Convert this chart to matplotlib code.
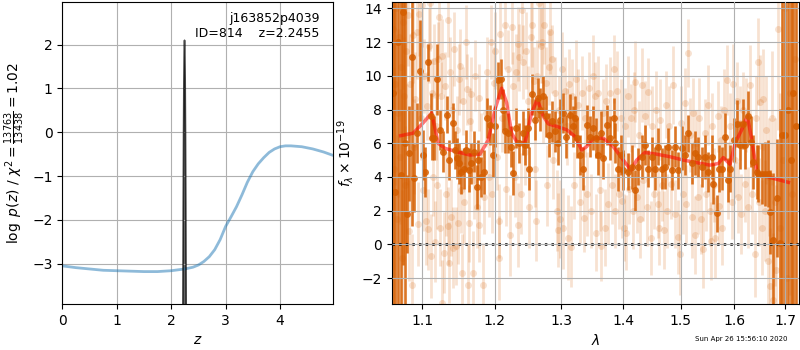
import numpy as np
import matplotlib
matplotlib.use("Agg")
import matplotlib.pyplot as plt
from matplotlib.ticker import NullLocator, FixedLocator, FixedFormatter

# ---------------- redshift fit: chi2 curve (rescaled) and p(z) spike ----------------
chi_z = [0.0, 0.25, 0.5, 0.75, 1.0, 1.25, 1.5, 1.75, 2.0, 2.25, 2.4, 2.5, 2.6, 2.7,
         2.8, 2.9, 3.0, 3.1, 3.2, 3.3, 3.4, 3.5, 3.6, 3.7, 3.8, 3.9, 4.0, 4.1, 4.2,
         4.4, 4.6, 4.8, 4.98]
chi_logp = [-3.05, -3.09, -3.12, -3.15, -3.16, -3.17, -3.18, -3.18, -3.16, -3.12,
            -3.08, -3.03, -2.95, -2.84, -2.68, -2.45, -2.15, -1.93, -1.70, -1.43,
            -1.14, -0.90, -0.72, -0.58, -0.46, -0.38, -0.33, -0.31, -0.31, -0.33,
            -0.38, -0.45, -0.53]

pz_z = [2.2095, 2.2155, 2.2215, 2.2275, 2.2335, 2.2395, 2.2455, 2.2515, 2.2575,
        2.2635, 2.2695, 2.2755, 2.2815]
pz_logp = [-6.54, -3.90, -1.74, -0.06, 1.14, 1.86, 2.10, 1.86, 1.14, -0.06, -1.74,
           -3.90, -6.54]

# ---------------- 1D spectrum: unbinned pixels ----------------
faint_wave = [
    1.0615, 1.0630, 1.0645, 1.0660, 1.0672, 1.0688, 1.0700, 1.0715, 1.0728, 1.0740,
    1.0752, 1.0765, 1.0778, 1.0790, 1.0805, 1.0818, 1.0832, 1.0845, 1.0862, 1.0875,
    1.0890, 1.0905, 1.0926, 1.0947, 1.0961, 1.0980, 1.0992,
    1.1005, 1.1020, 1.1045, 1.1058, 1.1070, 1.1085, 1.1102, 1.1111, 1.1125, 1.1140,
    1.1155, 1.1168, 1.1180, 1.1200, 1.1215, 1.1227, 1.1234, 1.1250, 1.1258, 1.1270,
    1.1287, 1.1300, 1.1320, 1.1340, 1.1346, 1.1353, 1.1370, 1.1392, 1.1400, 1.1415,
    1.1430, 1.1452, 1.1465, 1.1483, 1.1495, 1.1505, 1.1520, 1.1540, 1.1555, 1.1570,
    1.1595, 1.1603, 1.1618, 1.1630, 1.1645, 1.1663, 1.1687, 1.1700, 1.1720, 1.1745,
    1.1776, 1.1777, 1.1800, 1.1832, 1.1850, 1.1870, 1.1892, 1.1915, 1.1940, 1.1960,
    1.1985,
    1.2010, 1.2035, 1.2058, 1.2065, 1.2080, 1.2110, 1.2150, 1.2170, 1.2190, 1.2227,
    1.2244, 1.2260, 1.2290, 1.2310, 1.2336, 1.2343, 1.2360, 1.2380, 1.2400, 1.2420,
    1.2440, 1.2465, 1.2490, 1.2510, 1.2530, 1.2550, 1.2575, 1.2600, 1.2613, 1.2630,
    1.2660, 1.2680, 1.2700, 1.2715, 1.2735, 1.2760, 1.2780, 1.2800, 1.2830, 1.2850,
    1.2870, 1.2900, 1.2925, 1.2944, 1.2960, 1.2985,
    1.3010, 1.3030, 1.3055, 1.3080, 1.3096, 1.3120, 1.3149, 1.3170, 1.3200, 1.3230,
    1.3260, 1.3290, 1.3320, 1.3356, 1.3380, 1.3410, 1.3440, 1.3470, 1.3500, 1.3534,
    1.3555, 1.3580, 1.3610, 1.3637, 1.3660, 1.3690, 1.3720, 1.3750, 1.3780, 1.3815,
    1.3846, 1.3870, 1.3900, 1.3930, 1.3960, 1.3985,
    1.4008, 1.4030, 1.4055, 1.4080, 1.4105, 1.4130, 1.4160, 1.4180, 1.4208, 1.4235,
    1.4260, 1.4290, 1.4315, 1.4340, 1.4370, 1.4400, 1.4430, 1.4470, 1.4500, 1.4530,
    1.4560, 1.4590, 1.4615, 1.4640, 1.4670, 1.4700, 1.4730, 1.4760, 1.4790, 1.4830,
    1.4860, 1.4890, 1.4945, 1.4985,
    1.5010, 1.5040, 1.5070, 1.5100, 1.5138, 1.5170, 1.5200, 1.5230, 1.5252, 1.5280,
    1.5310, 1.5340, 1.5370, 1.5412, 1.5440, 1.5470, 1.5500, 1.5530, 1.5548, 1.5580,
    1.5610, 1.5640, 1.5680, 1.5710, 1.5740, 1.5770, 1.5800, 1.5850, 1.5880, 1.5910,
    1.5950, 1.5980,
    1.6010, 1.6040, 1.6070, 1.6100, 1.6130, 1.6170, 1.6200, 1.6230, 1.6260, 1.6300,
    1.6340, 1.6403, 1.6420, 1.6450, 1.6480, 1.6500, 1.6530, 1.6560, 1.6590, 1.6620,
    1.6650, 1.6680, 1.6700, 1.6730, 1.6760, 1.6790, 1.6820, 1.6860, 1.6900, 1.6950,
    1.7000, 1.7050, 1.7100, 1.7150, 1.7200,
]
faint_flux = [
    12.8, 4.5, 9.5, 14.0, 1.5, 7.8, 12.3, 5.2, 10.5, -0.8,
    13.2, 8.8, 3.5, 11.5, 6.5, 13.6, 0.8, 9.5, -2.4, 12.4,
    5.8, 8.6, 12.6, 1.2, 13.7, 7.5, 14.2,
    3.2, 10.0, 1.4, 8.2, 0.9, 11.8, 14.3, -0.7, 9.0, 4.0,
    10.9, 0.15, 7.0, 3.5, 11.0, 13.5, 1.0, 8.8, -3.5, 11.2,
    -0.5, 9.4, 3.0, 1.1, 13.3, -1.1, 10.2, 1.6, 8.0, -0.2,
    11.6, -0.1, 6.8, 1.25, 9.8, 10.6, 3.2, -1.7, 8.5, 2.5,
    12.0, 9.2, -2.4, 1.25, 7.3, 8.9, -1.7, 3.8, 10.0, 2.2,
    1.15, 8.7, 5.5, -2.4, 2.8, 7.8, 10.2, 4.0, 12.0, 3.0,
    9.6,
    11.5, 5.2, -0.8, 1.4, 12.5, 7.5, 13.0, 3.3, 10.4, 0.55,
    12.9, 9.4, 4.0, 10.2, 1.15, 11.9, 11.1, 3.0, 13.9, 10.8,
    5.5, 11.5, 8.5, 2.2, 12.3, 13.0, 9.7, 4.5, 1.4, 10.0,
    14.3, 11.8, 12.0, 8.0, 13.0, 9.6, 3.5, 10.5, 12.6, 11.0,
    5.0, 9.0, 2.0, 0.85, 8.0, 1.5,
    10.4, 0.95, 9.1, 7.0, 0.4, 9.5, -0.15, 8.8, 3.5, 9.8,
    8.3, 2.5, 9.0, 1.55, 7.5, 3.0, 9.3, 2.0, 10.0, 8.8,
    0.7, 9.0, 3.2, -0.1, 7.8, 1.0, 8.5, 2.4, 9.0, 3.5,
    10.4, 2.0, 9.1, 3.0, 7.5, 2.6,
    1.0, 7.0, 0.7, 8.8, 3.3, 7.5, 2.0, 8.0, 9.65, 2.8,
    6.5, 1.5, 9.45, 3.8, 7.6, 2.2, 9.06, 0.4, 7.0, 3.0,
    8.0, 2.4, 0.95, 7.4, 3.5, 0.85, 8.3, 2.0, 7.0, 3.6,
    9.45, 1.8, 0.45, -0.6,
    7.2, 3.0, 8.37, 2.4, 11.35, 6.5, 1.6, 7.8, 0.55, 6.0,
    2.8, 7.5, 1.5, -0.3, 6.6, 3.0, 8.27, 2.0, 0.2, 7.0,
    3.5, 0.4, 7.6, 2.3, 6.2, 1.0, 8.0, 9.75, 3.8, 7.0,
    2.5, 9.5,
    5.0, 8.5, 2.8, 7.2, 1.8, 8.0, 3.6, 7.7, 2.2, 9.45,
    3.0, -0.6, 7.5, 10.85, 2.5, 8.46, 1.0, 8.6, 2.0, 6.8,
    -1.0, 4.0, -2.5, 7.5, -3.3, 2.5, -1.5, 12.8, 1.0, 5.0,
    14.0, -2.0, 9.0, 3.0, 11.0,
]
faint_err = [
    6, 6, 6, 5, 5, 5, 5, 4, 4, 4,
    4, 3.5, 3.5, 3.5, 3, 3, 3, 3, 3, 2.8,
    2.8, 2.8, 2.8, 2.5, 2.5, 2.5, 2.5,
    2.4, 2.2, 2.6, 2.0, 2.4, 2.2, 2.8, 2.5, 2.0, 2.3,
    2.2, 2.4, 2.0, 2.6, 2.2, 2.5, 2.3, 2.0, 2.6, 2.2,
    2.4, 2.0, 2.5, 2.3, 2.2, 2.4, 2.1, 2.3, 2.0, 2.4,
    2.2, 2.3, 2.0, 2.4, 2.1, 2.2, 2.5, 2.3, 2.0, 2.4,
    2.2, 2.1, 2.4, 2.3, 2.0, 2.2, 2.5, 2.3, 2.1, 2.4,
    2.2, 2.0, 2.3, 2.5, 2.2, 2.0, 2.1, 2.4, 2.2, 2.3,
    2.1,
    2.3, 2.0, 2.5, 2.2, 2.4, 2.0, 2.6, 2.2, 2.3, 2.4,
    2.2, 2.0, 2.4, 2.3, 2.5, 2.2, 2.0, 2.4, 2.6, 2.2,
    2.0, 2.3, 2.1, 2.4, 2.2, 2.5, 2.0, 2.3, 2.4, 2.1,
    2.6, 2.2, 2.4, 2.0, 2.3, 2.1, 2.4, 2.2, 2.5, 2.0,
    2.3, 2.1, 2.4, 2.2, 2.0, 2.3,
    2.2, 2.4, 2.0, 2.3, 2.5, 2.1, 2.4, 2.2, 2.0, 2.3,
    2.1, 2.4, 2.2, 2.0, 2.3, 2.5, 2.1, 2.2, 2.4, 2.0,
    2.3, 2.2, 2.4, 2.1, 2.0, 2.3, 2.2, 2.4, 2.1, 2.3,
    2.0, 2.2, 2.4, 2.1, 2.3, 2.2,
    2.0, 2.3, 2.2, 2.4, 2.1, 2.0, 2.3, 2.2, 2.4, 2.1,
    2.0, 2.3, 2.2, 2.4, 2.1, 2.3, 2.0, 2.2, 2.4, 2.1,
    2.3, 2.0, 2.2, 2.4, 2.1, 2.3, 2.0, 2.2, 2.4, 2.1,
    2.3, 2.0, 2.2, 2.4,
    2.2, 2.4, 2.1, 2.3, 2.0, 2.2, 2.4, 2.1, 2.3, 2.0,
    2.2, 2.4, 2.1, 2.3, 2.0, 2.2, 2.4, 2.1, 2.3, 2.0,
    2.2, 2.4, 2.1, 2.3, 2.0, 2.2, 2.4, 2.1, 2.3, 2.0,
    2.2, 2.4,
    2.2, 2.3, 2.1, 2.2, 2.4, 2.2, 2.3, 2.2, 2.4, 2.4,
    2.4, 2.5, 2.5, 2.6, 2.6, 2.8, 2.8, 3.0, 3.0, 3.2,
    3.2, 3.5, 3.5, 4.0, 4.0, 5.0, 5.0, 6.0, 8.0, 10.0,
    10.0, 12.0, 12.0, 15.0, 15.0,
]

# ---------------- 1D spectrum: binned points ----------------
strong_wave = [
    1.0615, 1.0650, 1.0688, 1.0722, 1.0748, 1.0772,
    1.0796, 1.0830, 1.0869, 1.0895, 1.0930, 1.0969, 1.1005, 1.1040, 1.1079, 1.1110,
    1.1125, 1.1155, 1.1192, 1.1236, 1.1275, 1.1327, 1.1362, 1.1417, 1.1440, 1.1472,
    1.1496, 1.1523, 1.1560, 1.1598, 1.1630, 1.1665, 1.1705, 1.1750, 1.1764, 1.1800,
    1.1846, 1.1884, 1.1931, 1.1970, 1.2010, 1.2050, 1.2085, 1.2120, 1.2148, 1.2190,
    1.2230, 1.2271, 1.2310, 1.2350, 1.2409, 1.2450, 1.2493, 1.2508, 1.2550, 1.2593,
    1.2635, 1.2669, 1.2710, 1.2755, 1.2800, 1.2850, 1.2900, 1.2940, 1.2977, 1.3025,
    1.3075, 1.3134, 1.3185, 1.3213, 1.3250, 1.3292, 1.3340, 1.3399, 1.3450, 1.3500,
    1.3550, 1.3581, 1.3630, 1.3670, 1.3723, 1.3782, 1.3840, 1.3870, 1.3918, 1.3963,
    1.4001, 1.4086, 1.4144, 1.4199, 1.4256, 1.4314, 1.4370, 1.4428, 1.4487, 1.4545,
    1.4603, 1.4662, 1.4720, 1.4779, 1.4838, 1.4899, 1.4958, 1.5018, 1.5078, 1.5138,
    1.5199, 1.5261, 1.5322, 1.5383, 1.5445, 1.5505, 1.5568, 1.5599, 1.5661, 1.5711,
    1.5756, 1.5820, 1.5883, 1.5915, 1.5992, 1.6056, 1.6107, 1.6159, 1.6204, 1.6268,
    1.6316, 1.6367, 1.6433, 1.6466, 1.6533, 1.6599, 1.6666, 1.6699, 1.6767, 1.6834,
    1.6903, 1.6937, 1.7006, 1.7060, 1.7115, 1.7170, 1.7230,
]
strong_flux = [
    9.0, 3.1, 12.0, 4.1, 13.8, 6.0,
    1.8, 5.4, 11.1, 3.95, 6.6, 10.3, 5.3, 4.3, 10.8, 7.6,
    6.3, 6.3, 9.8, 6.8, 5.5, 7.7, 5.0, 7.2, 5.6, 5.1,
    4.8, 4.3, 4.5, 5.6, 4.4, 4.8, 5.5, 3.4, 5.0, 4.0,
    4.3, 7.5, 7.1, 5.3, 7.0, 9.75, 9.8, 8.0, 6.7, 6.6,
    5.8, 4.25, 6.9, 6.0, 6.6, 5.9, 6.9, 4.5, 8.9, 7.4,
    8.7, 8.0, 8.8, 7.6, 6.5, 7.3, 6.7, 6.0, 7.4, 7.8,
    6.4, 7.7, 7.0, 7.5, 6.3, 5.3, 4.5, 7.1, 6.4, 6.9,
    6.3, 5.3, 6.6, 5.1, 7.1, 6.3, 7.5, 6.0, 4.45, 5.3,
    4.4, 4.3, 4.6, 3.2, 4.6, 5.2, 5.9, 4.5, 5.2, 4.5,
    5.8, 4.5, 4.6, 5.8, 4.4, 5.8, 4.4, 5.7, 5.3, 6.6,
    4.8, 5.4, 5.2, 4.6, 5.2, 4.3, 5.2, 3.6, 1.84, 4.5,
    4.5, 6.4, 3.8, 4.5, 6.2, 7.15, 5.9, 7.15, 5.9, 7.6,
    6.1, 4.9, 4.3, 4.2, 4.2, 4.2, 4.2, 1.94, 0.26, 2.73,
    0.06, 6.5, 6.5, 8.0, 5.0, 9.0, 7.0,
]
strong_err = [
    30, 30, 25, 20, 15, 12,
    2.3, 2.8, 10.0, 2.0, 1.8, 3.0, 1.5, 1.5, 1.1, 1.4,
    1.3, 1.3, 2.1, 1.2, 1.2, 1.1, 1.2, 1.2, 1.1, 1.2,
    1.2, 1.3, 1.2, 1.2, 1.3, 1.2, 1.2, 1.3, 1.2, 1.2,
    1.3, 1.2, 1.2, 1.3, 1.2, 1.1, 1.2, 1.2, 1.3, 1.2,
    1.2, 1.3, 1.2, 1.2, 1.3, 1.2, 1.2, 1.3, 1.2, 1.2,
    1.2, 1.3, 1.2, 1.2, 1.3, 1.2, 1.2, 1.3, 1.2, 1.2,
    1.3, 1.2, 1.2, 1.3, 1.2, 1.2, 1.3, 1.2, 1.2, 1.3,
    1.2, 1.2, 1.3, 1.2, 1.2, 1.3, 1.2, 1.2, 1.3, 1.2,
    1.2, 1.1, 1.3, 1.2, 1.1, 1.3, 1.2, 1.1, 1.2, 1.3,
    1.1, 1.2, 1.3, 1.1, 1.2, 1.2, 1.1, 1.3, 1.2, 1.1,
    1.2, 1.3, 1.2, 1.2, 1.3, 1.2, 1.3, 1.2, 1.1, 1.4,
    1.3, 1.4, 1.3, 1.4, 1.3, 1.4, 1.4, 1.5, 1.4, 1.5,
    1.5, 1.6, 1.6, 1.7, 1.8, 1.9, 2.0, 2.5, 4.0, 3.5,
    8.0, 15, 20, 25, 30, 30, 30,
]

# ---------------- best-fit template ----------------
model_wave = [1.0719, 1.0882, 1.1010, 1.1125, 1.1213, 1.1303, 1.1464, 1.1648, 1.1789,
              1.1908, 1.2003, 1.2100, 1.2173, 1.2246, 1.2319, 1.2443, 1.2543, 1.2629,
              1.2720, 1.2797, 1.2925, 1.3083, 1.3213, 1.3319, 1.3400, 1.3507, 1.3670,
              1.3835, 1.4002, 1.4131, 1.4228, 1.4370, 1.4575, 1.4810, 1.5049, 1.5291,
              1.5538, 1.5694, 1.5788, 1.5915, 1.6011, 1.6140, 1.6250, 1.6336, 1.6435,
              1.6565, 1.6834, 1.7071]
model_flux = [6.45, 6.6, 7.2, 7.8, 6.0, 5.7, 5.5, 5.3, 5.35,
              6.2, 8.0, 9.27, 8.4, 6.6, 6.1, 6.0, 7.8, 8.6,
              7.6, 7.15, 7.0, 6.8, 6.4, 5.6, 5.8, 6.3, 6.3,
              5.8, 5.0, 4.4, 5.0, 5.45, 5.35, 5.2, 5.0, 4.85,
              4.7, 4.8, 5.15, 4.75, 6.0, 6.8, 7.6, 6.2, 4.3,
              4.08, 3.86, 3.68]

wave_ticks = [1.1, 1.2, 1.3, 1.4, 1.5, 1.6, 1.7]
wave_tick_labels = ["1.1", "1.2", "1.3", "1.4", "1.5", "1.6", "1.7"]

target_name = "j163852p4039"
target_info = "ID=814    z=2.2455"
timestamp = "Sun Apr 26 15:56:10 2020"

G141_COLOR = (0.8352941, 0.3686275, 0.0)

fig = plt.figure(figsize=(8, 3.5), dpi=100)
ax1 = fig.add_axes([0.0779, 0.1314, 0.3388, 0.8637])
ax2 = fig.add_axes([0.4896, 0.1314, 0.5091, 0.8637])

# left: p(z)
ax1.plot(chi_z, chi_logp, color="tab:blue", alpha=0.5, lw=2)
ax1.fill_between(pz_z, pz_logp, -10, color="k", alpha=0.6, lw=0)
ax1.plot(pz_z, pz_logp, color="k", alpha=0.7, lw=1.2)
ax1.set_xlim(0, 4.98)
ax1.set_ylim(-3.92, 2.98)
ax1.grid(True)
ax1.set_xlabel(r"$z$")
ax1.set_ylabel(r"$\log\ p(z)$ / $\chi^2=\frac{13763}{13438}=1.02$")
ax1.text(0.95, 0.965, target_name + "\n" + target_info, transform=ax1.transAxes,
         ha="right", va="top", multialignment="right", fontsize=9)

# right: spectrum
ax2.set_xscale("log")
ax2.errorbar(faint_wave, faint_flux, yerr=faint_err, color=G141_COLOR, alpha=0.18,
             marker="o", ms=5, mew=0, ls="none", elinewidth=2)
ax2.errorbar(strong_wave, strong_flux, yerr=strong_err, color=G141_COLOR, alpha=0.85,
             marker="o", ms=5, mew=0, ls="none", elinewidth=1.9)
ax2.plot(model_wave, model_flux, color="r", alpha=0.55, lw=2.5)
ax2.axhline(0, color="k", ls=":", lw=1.8)
ax2.set_xlim(1.0604, 1.7288)
ax2.set_ylim(-3.54, 14.4)
ax2.xaxis.set_major_locator(FixedLocator(wave_ticks))
ax2.xaxis.set_major_formatter(FixedFormatter(wave_tick_labels))
ax2.xaxis.set_minor_locator(NullLocator())
ax2.set_axisbelow(False)
ax2.grid(True)
ax2.set_xlabel(r"$\lambda$")
ax2.set_ylabel(r"$f_\lambda\times10^{-19}$")

fig.text(0.984, 0.022, timestamp, ha="right", va="bottom", fontsize=5)

fig.savefig("out.png", dpi=100)
